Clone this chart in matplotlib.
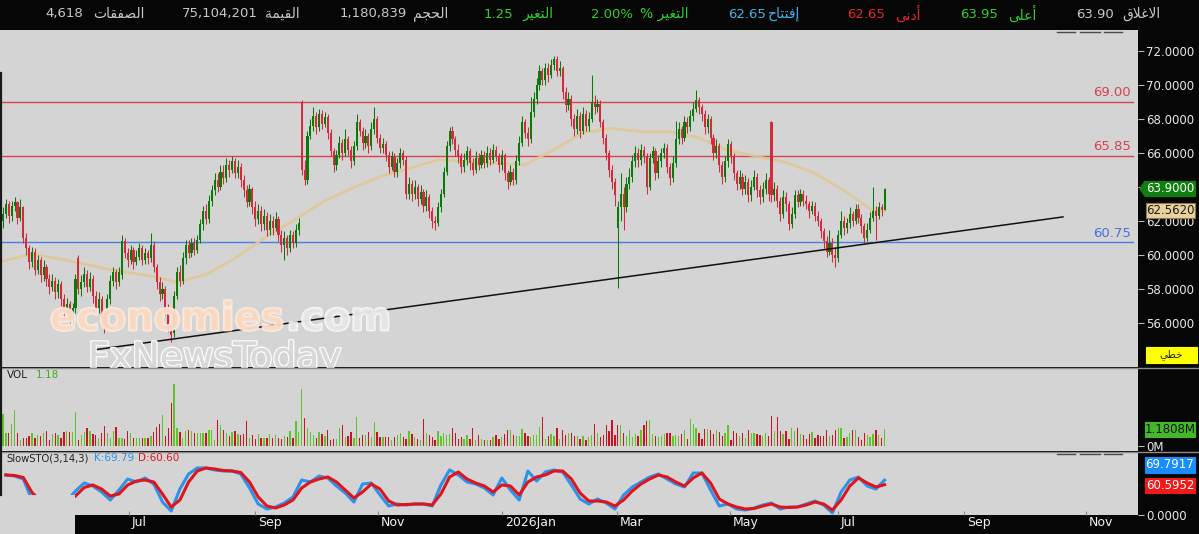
import numpy as np
import matplotlib
matplotlib.use("Agg")
import matplotlib.pyplot as plt
from matplotlib.patches import Rectangle, Polygon
from matplotlib.lines import Line2D
import matplotlib.patheffects as pe

plt.rcParams['font.family'] = ['DejaVu Sans']

# ---------------- data ----------------
opens = [62.0,62.4,63.0,62.3,62.9,63.1,62.2,62.8,61.0,60.4,59.6,60.2,59.1,59.7,58.8,59.3,58.6,58.1,58.5,57.8,
 58.3,57.4,56.7,57.1,56.3,56.9,59.8,58.0,58.4,58.9,58.1,58.6,57.6,56.9,57.4,56.3,55.9,57.4,58.5,59.0,
 58.4,58.8,60.8,60.1,59.7,60.3,59.6,59.9,60.4,59.7,60.1,59.8,60.6,59.3,58.4,57.7,58.0,56.9,55.9,55.4,
 57.6,59.0,58.5,59.8,60.6,60.1,60.7,60.3,60.9,61.8,62.6,62.1,63.2,63.8,64.4,64.0,64.9,64.5,65.3,65.0,
 65.5,64.8,65.2,64.4,63.8,63.1,63.9,62.8,62.1,62.6,61.8,62.3,61.5,62.0,61.6,62.1,61.2,60.6,61.0,60.4,
 61.2,60.7,61.5,69.0,65.0,64.4,67.0,67.6,68.2,67.5,68.3,67.7,68.1,67.2,66.1,65.3,65.9,66.6,66.0,66.8,
 66.2,65.5,66.4,67.8,67.3,66.6,67.0,66.4,67.4,68.0,66.9,66.3,66.5,65.9,65.2,65.8,64.9,65.4,66.0,65.6,
 63.6,64.2,63.6,64.0,63.3,63.7,62.9,63.4,62.6,62.0,61.9,62.8,63.6,64.9,66.4,67.3,66.8,66.2,65.8,65.2,
 65.6,66.1,65.4,65.0,65.7,65.3,65.9,65.4,66.0,65.6,66.2,65.8,65.3,65.9,64.8,64.3,64.9,64.4,65.5,66.6,
 67.8,67.2,66.8,68.4,69.2,70.0,70.8,70.3,71.0,70.6,71.2,71.5,70.8,71.0,69.6,68.8,69.2,68.0,67.4,68.2,
 67.3,68.3,67.6,68.0,69.0,68.7,68.9,67.8,66.9,66.0,65.0,64.3,61.6,62.8,63.6,62.8,64.2,64.6,65.5,66.0,
 65.6,66.2,65.8,64.0,65.7,66.1,64.8,65.5,66.0,66.3,65.2,64.5,65.4,66.8,67.4,66.9,67.8,67.5,68.2,68.6,
 69.1,68.7,68.3,67.5,68.0,66.9,66.0,66.4,65.3,64.6,65.5,66.5,65.8,64.8,64.2,64.6,63.9,64.3,63.5,64.0,
 64.6,63.8,63.4,63.9,64.4,67.8,63.5,63.9,63.2,62.4,63.4,63.0,61.8,62.4,63.5,63.1,63.6,63.2,63.0,62.6,
 62.9,62.3,62.0,61.4,60.8,60.2,60.7,60.0,59.8,61.2,62.0,61.6,61.9,62.4,62.0,62.7,62.2,61.7,61.0,61.5,
 62.2,62.6,62.3,62.8,62.65]
closes = [62.4,63.0,62.3,62.9,63.1,62.2,62.8,61.0,60.4,59.6,60.2,59.1,59.7,58.8,59.3,58.6,58.1,58.5,57.8,58.3,
 57.4,56.7,57.1,56.3,56.9,58.6,58.0,58.4,58.9,58.1,58.6,57.6,56.9,57.4,56.3,55.9,57.4,58.5,59.0,58.4,
 59.0,60.8,60.1,59.7,60.3,59.6,59.9,60.4,59.7,60.1,59.8,60.6,59.3,58.4,57.7,58.0,56.9,55.9,55.3,57.6,
 59.0,58.5,59.8,60.6,60.1,60.7,60.3,60.9,61.8,62.6,62.1,63.2,63.8,64.4,64.0,64.9,64.5,65.3,65.0,65.5,
 64.8,65.2,64.4,63.8,63.1,63.9,62.8,62.1,62.6,61.8,62.3,61.5,62.0,61.6,62.1,61.2,60.6,61.0,60.4,61.2,
 60.7,61.5,61.9,65.0,64.4,67.0,67.6,68.2,67.5,68.3,67.7,68.1,67.2,66.1,65.3,65.9,66.6,66.0,66.8,66.2,
 65.5,66.4,67.8,67.3,66.6,67.0,66.4,67.4,68.0,66.9,66.3,66.5,65.9,65.2,65.8,64.9,65.4,66.0,65.6,63.6,
 64.2,63.6,64.0,63.3,63.7,62.9,63.4,62.6,62.0,61.9,62.8,63.6,64.9,66.4,67.3,66.8,66.2,65.8,65.2,65.6,
 66.1,65.4,65.0,65.7,65.3,65.9,65.4,66.0,65.6,66.2,65.8,65.3,65.9,64.8,64.3,64.9,64.4,65.5,66.6,67.8,
 67.2,66.8,68.4,69.2,70.0,70.8,70.3,71.0,70.6,71.2,71.5,70.8,71.0,69.6,68.8,69.2,68.0,67.4,68.2,67.3,
 68.3,67.6,68.0,69.0,68.7,68.9,67.8,66.9,66.0,65.0,64.3,63.5,62.8,63.6,62.8,64.2,64.6,65.5,66.0,65.6,
 66.2,65.8,64.0,65.7,66.1,64.8,65.5,66.0,66.3,65.2,64.5,65.4,66.8,67.4,66.9,67.8,67.5,68.2,68.6,69.1,
 68.7,68.3,67.5,68.0,66.9,66.0,66.4,65.3,64.6,65.5,66.5,65.8,64.8,64.2,64.6,63.9,64.3,63.5,64.0,64.6,
 63.8,63.4,63.9,64.4,63.6,63.5,63.9,63.2,62.4,63.4,63.0,61.8,62.4,63.5,63.1,63.6,63.2,63.0,62.6,62.9,
 62.3,62.0,61.4,60.8,60.2,60.7,60.0,59.8,61.2,62.0,61.6,61.9,62.4,62.0,62.7,62.2,61.7,61.0,61.5,62.2,
 62.6,62.3,62.8,62.65,63.90]
highs = [62.8,63.3,63.2,63.2,63.4,63.2,63.3,62.9,61.3,60.6,60.5,60.4,60.0,59.9,59.7,59.5,58.9,58.9,58.7,58.6,
 58.5,57.7,57.5,57.3,57.2,58.9,60.0,58.8,59.3,59.1,59.0,58.8,57.9,57.8,57.6,56.6,57.7,58.8,59.3,59.2,
 59.3,61.2,61.0,60.4,60.6,60.5,60.3,60.7,60.6,60.4,60.3,61.3,60.8,59.5,58.7,58.4,58.2,57.1,56.2,57.9,
 59.3,59.4,60.2,60.9,60.9,61.0,61.0,61.2,62.1,62.9,63.0,63.5,64.1,64.8,64.8,65.3,65.3,65.7,65.6,65.8,
 65.7,65.6,65.4,64.7,64.1,64.2,64.0,63.2,63.0,62.9,62.7,62.5,62.4,62.3,62.5,62.3,61.5,61.4,61.2,61.5,
 61.4,61.8,62.2,69.1,65.6,67.3,68.0,68.7,68.4,68.6,68.5,68.4,68.3,67.4,66.3,66.2,67.0,66.8,67.4,67.0,
 66.4,66.7,68.3,68.0,67.5,67.4,67.2,67.8,68.7,68.2,67.1,66.9,66.7,66.1,66.1,66.0,65.7,66.3,66.2,65.8,
 64.6,64.4,64.4,64.2,64.1,63.9,63.8,63.6,62.8,62.3,63.1,63.9,65.2,66.7,67.5,67.6,67.0,66.5,66.0,66.0,
 66.4,66.3,65.7,66.1,66.0,66.2,66.1,66.4,66.3,66.5,66.4,66.0,66.2,66.0,65.0,65.3,65.1,65.9,67.0,68.2,
 68.0,67.5,69.3,69.6,70.4,71.2,71.0,71.3,71.3,71.5,71.7,71.7,71.4,71.1,69.9,69.6,69.4,68.3,68.6,68.4,
 68.7,68.5,68.4,70.6,69.4,69.2,69.1,68.0,67.1,66.2,65.3,64.5,63.2,64.8,64.0,64.6,65.1,65.9,66.4,66.3,
 66.5,66.4,66.0,66.0,66.4,66.3,65.9,66.3,66.6,66.5,65.4,65.8,67.9,67.8,67.6,68.2,68.1,68.5,69.0,69.7,
 69.3,68.9,68.5,68.3,68.2,67.1,66.8,66.6,65.5,65.8,66.8,66.7,66.0,65.0,65.0,64.8,64.7,64.5,64.4,65.0,
 64.8,64.1,64.3,64.8,64.6,67.9,64.3,64.1,63.4,63.8,63.7,63.2,62.8,63.8,63.8,63.9,63.8,63.5,63.2,63.2,
 63.1,62.6,62.2,61.6,61.1,61.5,61.0,60.5,61.5,62.6,62.3,62.2,62.8,62.6,63.0,63.0,62.4,61.9,61.9,62.5,
 64.0,62.9,63.1,63.0,63.95]
lows = [61.6,62.2,61.9,62.0,62.6,61.8,62.0,60.7,60.0,59.2,59.3,58.8,58.9,58.4,58.5,58.2,57.7,57.9,57.4,57.5,
 57.0,56.3,56.4,55.8,55.9,56.6,57.7,57.6,58.1,57.8,57.9,57.2,56.5,56.6,55.9,55.4,55.7,57.1,58.2,58.0,
 58.2,58.6,59.8,59.3,59.5,59.2,59.4,59.7,59.4,59.5,59.5,59.6,59.0,58.0,57.3,57.4,56.5,55.5,54.9,55.2,
 57.4,58.2,58.3,59.5,59.8,59.9,60.0,60.1,60.7,61.5,61.8,61.9,62.9,63.5,63.7,63.8,64.2,64.3,64.6,64.8,
 64.5,64.5,64.0,63.4,62.8,62.9,62.4,61.7,61.8,61.4,61.5,61.1,61.2,61.2,61.4,60.8,60.2,59.7,60.0,60.2,
 60.4,60.5,61.2,64.7,64.1,64.2,66.8,67.3,67.1,67.3,67.4,67.5,66.8,65.8,64.9,65.0,65.7,65.6,65.8,65.9,
 65.1,65.3,66.2,67.0,66.2,66.3,66.0,66.2,67.1,66.6,66.0,66.0,65.5,64.8,65.0,64.6,64.6,65.1,65.3,63.3,
 63.3,63.2,63.3,62.9,63.0,62.5,62.6,62.2,61.6,61.5,61.7,62.5,63.4,64.7,66.1,66.5,65.8,65.4,64.8,64.9,
 65.3,65.0,64.7,64.8,65.0,65.1,65.1,65.2,65.3,65.4,65.5,64.9,65.0,64.4,63.9,64.1,64.1,64.2,65.3,66.4,
 66.9,66.4,66.6,68.1,68.9,69.7,70.0,70.0,70.2,70.4,70.9,70.5,70.5,69.2,68.4,68.5,67.6,67.0,67.1,66.9,
 67.1,67.3,67.3,67.8,68.3,68.4,67.5,66.5,65.6,64.6,63.9,62.9,58.05,62.0,61.5,62.5,63.9,64.3,65.2,65.2,
 65.3,65.4,63.6,63.8,65.4,64.4,64.5,65.2,65.7,64.8,64.1,64.3,65.2,66.5,66.5,66.7,67.2,67.3,67.9,68.4,
 68.3,67.9,67.1,67.2,66.5,65.6,65.7,64.9,64.2,64.3,65.2,65.4,64.4,63.8,63.9,63.5,63.6,63.1,63.2,63.8,
 63.4,63.0,63.1,63.6,63.2,63.1,63.2,62.8,62.0,62.2,62.6,61.5,61.6,62.2,62.8,62.9,62.9,62.7,62.2,62.4,
 62.0,61.7,61.0,60.4,59.9,60.0,59.6,59.3,59.6,61.0,61.2,61.3,61.6,61.7,61.8,61.9,61.3,60.7,60.8,61.3,
 62.0,60.9,62.1,62.3,62.65]
volume_m = [2.3,0.9,0.9,1.6,2.6,0.9,0.43,0.55,0.55,0.7, 0.9,0.55,0.8,0.7,0.9,1.1,0.45,0.85,0.95,0.8,
 0.55,1.0,1.1,1.0,1.0,2.4,0.45,0.8,1.0,1.25, 1.1,0.85,0.8,0.6,0.9,1.4,0.9,0.6,1.05,1.35,
 0.6,0.6,0.5,1.05,0.95,0.55,0.55,0.55,0.55,0.6, 0.6,0.7,1.0,1.35,1.55,2.2,0.7,1.25,3.1,4.4,
 1.25,1.0,0.55,1.1,1.15,1.05,0.95,0.95,0.9,0.95, 0.95,1.15,1.15,0.45,1.85,1.5,1.15,0.95,0.7,1.0,
 1.05,0.85,0.8,0.85,1.8,0.6,0.8,0.5,0.85,0.6, 0.6,0.6,0.85,0.6,0.8,0.6,0.5,0.7,0.65,1.1,
 0.6,1.75,1.0,4.1,2.0,
 1.26,1.02,0.79,0.55,1.02,0.86,0.71,1.14,0.43,0.48,0.48,1.26,1.5,0.67,0.71,1.02,0.55,2.05,0.55,0.79,
 0.79,1.02,0.67,1.74,1.02,0.67,0.67,0.67,0.67,0.43,0.67,0.79,0.9,
 0.64,0.52,1.05,0.88,0.64,0.52,0.4,1.9,0.95,0.76,0.64,0.4,1.05,0.71,0.95,0.76,0.86,1.3,0.95,0.52,
 0.64,0.52,0.76,0.52,1.3,0.4,0.76,0.52,0.4,0.4,0.4,0.62,0.81,0.52,0.64,0.88,1.12,1.12,0.81,0.69,
 0.71,1.19,0.95,0.69,0.64,0.81,0.81,1.33,2.05,0.52,0.71,0.88,0.71,1.29,0.48,1.12,0.81,0.95,0.95,0.71,
 0.71,0.52,0.71,0.4,0.64,0.76,1.6,0.95,0.64,0.81,1.48,1.05,1.83,0.76,1.48,1.48,0.95,0.71,1.12,0.64,
 0.88,0.71,1.12,1.48,1.76,1.83,0.88,0.71,0.64,0.71,0.88,0.95,0.95,0.71,0.81,0.71,0.88,1.17,0.52,1.95,
 1.55,1.31,0.95,0.52,1.19,1.19,1.12,0.86,1.12,1.0,0.71,0.95,1.48,0.4,1.05,0.95,0.71,0.95,0.57,1.12,
 0.95,0.95,0.88,0.76,0.71,0.95,0.71,2.14,1.05,2.07,1.05,0.88,1.05,0.52,1.31,1.05,1.31,0.88,0.81,0.52,
 0.86,1.0,0.57,0.76,0.71,0.71,1.17,0.71,0.81,1.12,1.31,1.29,0.57,0.64,0.95,1.17,1.17,0.64,0.4,0.95,
 0.81,0.64,0.88,1.12,0.76,0.57,1.18]
# slow stochastic, sampled every 3rd session starting at session 1
stoch_k = [80,78,72,30,22,18,20,28,48,64, 58,46,30,50,72,66,74,62,26,8,
 52,82,94,94,90,88,88,82,54,22, 12,16,24,36,70,66,78,74,58,44,
 26,62,64,40,18,22,20,22,22,18, 60,90,80,66,62,54,40,74,50,30,
 88,68,86,90,86,60,32,22,32,24, 12,40,56,66,76,82,72,62,56,84,
 84,50,18,22,12,10,14,20,24,12, 16,16,22,28,20,4,46,70,76,58,
 52,69.79]
stoch_d = [80,79,75,45,28,22,20,24,38,55, 60,52,38,42,60,68,70,66,42,16,
 30,66,88,94,92,89,88,85,66,36, 18,14,20,30,54,66,72,76,66,50,
 34,46,62,52,28,20,21,22,22,20, 42,76,86,72,64,58,46,60,58,40,
 66,76,80,88,88,72,44,28,28,26, 18,30,48,62,72,80,76,66,58,74,
 84,64,32,22,16,12,13,18,22,16, 15,16,20,26,22,10,30,58,74,64,
 56,60.6]
# moving average sampled every 10 sessions (plus the last one)
ma_values = [59.65,60.05,59.75,59.4,59.05,58.8,58.4,58.85,59.8,61.0,62.0,63.1,63.9,64.6,65.1,65.6,
 65.5,65.4,65.3,66.2,67.2,67.45,67.25,67.25,66.9,66.15,65.8,65.45,64.8,63.8,62.6,62.562]
levels_red = [69.00, 65.85]
level_blue = 60.75
trend_session = [31.0, 365.5]
trend_price = [54.41, 62.24]
month_labels = ['Jul', 'Sep', 'Nov', '2026Jan', 'Mar', 'May', 'Jul', 'Sep', 'Nov']
month_pos = [43.45, 86.9, 129.3, 172.07, 211.7, 250.7, 287.9, 331.4, 373.4]

header_items = [  # (text, colour, left px)
    ('4,618', '#c8c8c8', 45), ('الصفقات', '#c8c8c8', 93),
    ('75,104,201', '#c8c8c8', 182), ('القيمة', '#c8c8c8', 265),
    ('1,180,839', '#c8c8c8', 340), ('الحجم', '#c8c8c8', 413),
    ('1.25', '#2fd02f', 484), ('التغير', '#2fd02f', 522),
    ('2.00%', '#2fd02f', 591), ('التغير %', '#2fd02f', 640),
    ('62.65', '#3fb4ea', 728), ('إفتتاح', '#3fb4ea', 768),
    ('62.65', '#e8262b', 847), ('أدنى', '#e8262b', 895),
    ('63.95', '#2fd02f', 960), ('أعلى', '#2fd02f', 1008),
    ('63.90', '#c8c8c8', 1076), ('الاغلاق', '#c8c8c8', 1122),
]

# ---------------- arabic shaping (visual order for matplotlib) ----------------
FORMS = {
 'ا': ('\uFE8D', '\uFE8E'), 'أ': ('\uFE83', '\uFE84'), 'إ': ('\uFE87', '\uFE88'),
 'د': ('\uFEA9', '\uFEAA'), 'ر': ('\uFEAD', '\uFEAE'), 'ة': ('\uFE93', '\uFE94'),
 'ى': ('\uFEEF', '\uFEF0'),
 'ت': ('\uFE95', '\uFE96', '\uFE97', '\uFE98'), 'ج': ('\uFE9D', '\uFE9E', '\uFE9F', '\uFEA0'),
 'ح': ('\uFEA1', '\uFEA2', '\uFEA3', '\uFEA4'), 'خ': ('\uFEA5', '\uFEA6', '\uFEA7', '\uFEA8'),
 'ص': ('\uFEB9', '\uFEBA', '\uFEBB', '\uFEBC'), 'ط': ('\uFEC1', '\uFEC2', '\uFEC3', '\uFEC4'),
 'ع': ('\uFEC9', '\uFECA', '\uFECB', '\uFECC'), 'غ': ('\uFECD', '\uFECE', '\uFECF', '\uFED0'),
 'ف': ('\uFED1', '\uFED2', '\uFED3', '\uFED4'), 'ق': ('\uFED5', '\uFED6', '\uFED7', '\uFED8'),
 'ل': ('\uFEDD', '\uFEDE', '\uFEDF', '\uFEE0'), 'م': ('\uFEE1', '\uFEE2', '\uFEE3', '\uFEE4'),
 'ن': ('\uFEE5', '\uFEE6', '\uFEE7', '\uFEE8'), 'ي': ('\uFEF1', '\uFEF2', '\uFEF3', '\uFEF4'),
}
LAM_ALEF = {'ا': ('\uFEFB', '\uFEFC'), 'أ': ('\uFEF7', '\uFEF8'), 'إ': ('\uFEF9', '\uFEFA')}


def shape_ar(s):
    toks = []
    i = 0
    while i < len(s):
        if s[i] == 'ل' and i + 1 < len(s) and s[i + 1] in LAM_ALEF:
            toks.append(('LA', s[i + 1]))
            i += 2
        else:
            toks.append((s[i], None))
            i += 1
    out = []
    for k, (c, a) in enumerate(toks):
        prev = toks[k - 1][0] if k > 0 else None
        nxt = toks[k + 1][0] if k + 1 < len(toks) else None
        jp = prev in FORMS and len(FORMS[prev]) == 4
        if c == 'LA':
            out.append(LAM_ALEF[a][1] if jp else LAM_ALEF[a][0])
            continue
        if c not in FORMS:
            out.append(c)
            continue
        f = FORMS[c]
        jn = len(f) == 4 and (nxt in FORMS or nxt == 'LA')
        if jp and jn:
            out.append(f[3])
        elif jp:
            out.append(f[1])
        elif jn:
            out.append(f[2])
        else:
            out.append(f[0])
    return ''.join(reversed(out))


# ---------------- figure ----------------
W, H, DPI = 1199, 534, 100
fig = plt.figure(figsize=(W / DPI, H / DPI), dpi=DPI, facecolor='#060606')


def prect(x0, y0, x1, y1):
    return [x0 / W, 1 - y1 / H, (x1 - x0) / W, (y1 - y0) / H]


PANEL = '#d4d4d4'
ax = fig.add_axes(prect(0, 30, 1138, 367), facecolor=PANEL)
axv = fig.add_axes(prect(0, 368, 1138, 451), facecolor=PANEL, sharex=ax)
axs = fig.add_axes(prect(0, 452, 1138, 515), facecolor=PANEL, sharex=ax)

O = np.array(opens); C = np.array(closes); Hh = np.array(highs); Ll = np.array(lows)
N = len(C)
idx = np.arange(N)
GREEN, RED = '#0b7a0b', '#d52a3c'
col = np.where(C >= O, GREEN, RED)
ax.vlines(idx, Ll, Hh, colors=col, lw=0.75, zorder=3)
ax.bar(idx, np.maximum(np.abs(C - O), 0.07), bottom=np.minimum(O, C), width=0.72,
       color=col, linewidth=0, zorder=4)

ma_idx = np.r_[np.arange(0, N, 10), N - 1]
ax.plot(ma_idx, ma_values, color='#e0c792', lw=2.0, alpha=0.85, zorder=2, solid_capstyle='round')

for lv in levels_red:
    ax.axhline(lv, xmax=1133 / 1138, color='#d8414f', lw=1.0, zorder=1)
    ax.annotate(f'{lv:.2f}', xy=(1131 / 1138, lv), xycoords=ax.get_yaxis_transform(),
                xytext=(0, 4), textcoords='offset points', ha='right', va='baseline',
                color='#d8414f', fontsize=9.5)
ax.axhline(level_blue, xmax=1133 / 1138, color='#4a7de6', lw=1.0, zorder=1)
ax.annotate(f'{level_blue:.2f}', xy=(1131 / 1138, level_blue), xycoords=ax.get_yaxis_transform(),
            xytext=(0, 4), textcoords='offset points', ha='right', va='baseline',
            color='#4a6fe0', fontsize=9.5)
ax.plot(trend_session, trend_price, color='#111111', lw=1.1, zorder=5)

XL = (-3 / 2.9, (1138 - 3) / 2.9)
ax.set_xlim(*XL)
ax.set_ylim(53.412, 73.235)
ax.yaxis.tick_right()
ax.set_yticks(np.arange(56, 73, 2))
ax.set_yticklabels([f'{v:.4f}' for v in np.arange(56, 73, 2)])
ax.tick_params(axis='y', direction='out', length=4, width=0.8, colors='#bbbbbb',
               labelcolor='#e8e8e8', labelsize=8.5, pad=2)
ax.tick_params(axis='x', bottom=False, labelbottom=False)
for a in (ax, axv, axs):
    for s in a.spines.values():
        s.set_visible(False)

# volume
V = np.array(volume_m)
prevc = np.r_[O[0], C[:-1]]
vcol = np.where(C >= prevc, '#5cc628', '#cc1122')
axv.bar(idx, V, width=0.45, color=vcol, linewidth=0)
axv.set_ylim(-0.357, 5.571)
axv.yaxis.tick_right()
axv.set_yticks([0])
axv.set_yticklabels(['0M'])
axv.tick_params(axis='y', direction='out', length=4, width=0.8, colors='#bbbbbb',
                labelcolor='#e8e8e8', labelsize=8.5, pad=2)
axv.tick_params(axis='x', bottom=False, labelbottom=False)
axv.text(7 / 1138, 0.91, 'VOL', transform=axv.transAxes, fontsize=7.5, color='#222222', va='center')
axv.text(36 / 1138, 0.91, f'{V[-1]:.2f}', transform=axv.transAxes, fontsize=7.5, color='#3fae1c', va='center')

# stochastic
s_idx = np.arange(1, N, 3)
axs.plot(s_idx, stoch_k, color='#2a93ec', lw=2.2, zorder=3)
axs.plot(s_idx, stoch_d, color='#e0141c', lw=2.2, zorder=4)
axs.set_ylim(0, 126)
axs.yaxis.tick_right()
axs.set_yticks([0])
axs.set_yticklabels(['0.0000'])
axs.tick_params(axis='y', direction='out', length=4, width=0.8, colors='#bbbbbb',
                labelcolor='#e8e8e8', labelsize=8.5, pad=2)
axs.set_xticks(month_pos)
axs.tick_params(axis='x', direction='in', length=3, colors='#8a8a8a', labelbottom=False)
axs.set_xlim(*XL)
axs.text(6 / 1138, 0.9, 'SlowSTO(3,14,3)', transform=axs.transAxes, fontsize=7.2, color='#222222', va='center')
axs.text(94 / 1138, 0.9, f'K:{stoch_k[-1]:.2f}', transform=axs.transAxes, fontsize=7.5, color='#2a93ec', va='center')
axs.text(138 / 1138, 0.9, f'D:{stoch_d[-1]:.2f}', transform=axs.transAxes, fontsize=7.5, color='#e0141c', va='center')

# date labels in black strip
for lab, p in zip(month_labels, month_pos):
    xp = ax.transData.transform((p, 0))[0]
    fig.text((xp + 3) / W, 1 - 522.5 / H, lab, color='#f2f2f2', fontsize=9, ha='left', va='center', zorder=6)

# separators
for yy in (367.5, 451.5):
    fig.add_artist(Line2D([0, 1], [1 - yy / H] * 2, color='#8c8c8c', lw=1.0, transform=fig.transFigure))

# overlay box at the left bottom and dark left edge
fig.add_artist(Rectangle((0, 1 - 534 / H), 75 / W, 39 / H, transform=fig.transFigure,
                         fc=PANEL, ec='none', zorder=5))
fig.add_artist(Line2D([1 / W, 1 / W], [1 - 73 / H, 1 - 495 / H], color='#1a1a1a', lw=1.6,
                      transform=fig.transFigure, zorder=6))
# small dash marks at panel top-right corners
for (x0, x1) in ((1057, 1075), (1080, 1100), (1104, 1122)):
    for yy in (31.5, 453.5):
        fig.add_artist(Line2D([x0 / W, x1 / W], [1 - yy / H] * 2, color='#4a4a4a', lw=1.0,
                              transform=fig.transFigure, zorder=6))


def fig_y_of(axis, value):
    return H - axis.transData.transform((0, value))[1]


def box(x0, x1, yc, h, fc, txt, tc, ec=None, fs=8.5, arrow=False):
    fig.add_artist(Rectangle((x0 / W, 1 - (yc + h / 2) / H), (x1 - x0) / W, h / H,
                             transform=fig.transFigure, fc=fc, ec=ec or fc, lw=0.8, zorder=7))
    if arrow:
        fig.add_artist(Polygon([[x0 / W, 1 - (yc - h / 2) / H], [(x0 - 5) / W, 1 - yc / H],
                                [x0 / W, 1 - (yc + h / 2) / H]], closed=True,
                               transform=fig.transFigure, fc=fc, ec=fc, zorder=7))
    fig.text((x0 + x1) / 2 / W, 1 - yc / H, txt, color=tc, fontsize=fs, ha='center',
             va='center', zorder=8)


box(1145, 1195, fig_y_of(ax, C[-1]), 15, '#0e7f0e', f'{C[-1]:.4f}', '#ffffff', arrow=True)
box(1146, 1195, fig_y_of(ax, ma_values[-1]) - 0.5, 15, '#e9d29e', f'{ma_values[-1]:.4f}', '#1c1c1c', ec='#8c7a4e')
box(1146, 1197, 355, 16, '#ffff00', shape_ar('خطي'), '#222222', fs=7.5)
box(1145, 1195, fig_y_of(axv, V[-1]), 15, '#45b82a', '1.1808M', '#111111')
box(1145, 1195, 465, 16, '#1a8cff', '69.7917', '#ffffff')
box(1145, 1195, 485.5, 15, '#f01a1a', '60.5952', '#ffffff')

# header bar
for txt, c, x in header_items:
    is_ar = any('\u0600' <= ch <= '\u06ff' for ch in txt)
    fig.text(x / W, 1 - 14 / H, shape_ar(txt) if is_ar else txt, color=c,
             fontsize=10 if is_ar else 9.5, ha='left', va='center')

# watermark
base1 = 72 - (330 - 51) / 17
wm1 = ax.text((50 - 3) / 2.9, base1, 'economies', fontsize=28, fontweight='bold', color='#fbd9c2',
              alpha=0.8, zorder=8, va='baseline', ha='left')
wm1.set_path_effects([pe.withStroke(linewidth=2, foreground='#fff2e8')])
wm2 = ax.text((286 - 3) / 2.9, base1, '.com', fontsize=28, fontweight='bold',
              color='#e6e6e6', alpha=0.8, zorder=8, va='baseline', ha='left')
wm2.set_path_effects([pe.withStroke(linewidth=2, foreground='#ffffff')])
wm3 = ax.text((88 - 3) / 2.9, 72 - (369 - 51) / 17, 'FxNewsToday', fontsize=27, color='#d8d8d8',
              zorder=8, va='baseline', ha='left', clip_on=False)
wm3.set_path_effects([pe.withStroke(linewidth=2.2, foreground='#fafafa'), pe.Normal()])

fig.savefig('out.png', dpi=DPI, facecolor=fig.get_facecolor())
